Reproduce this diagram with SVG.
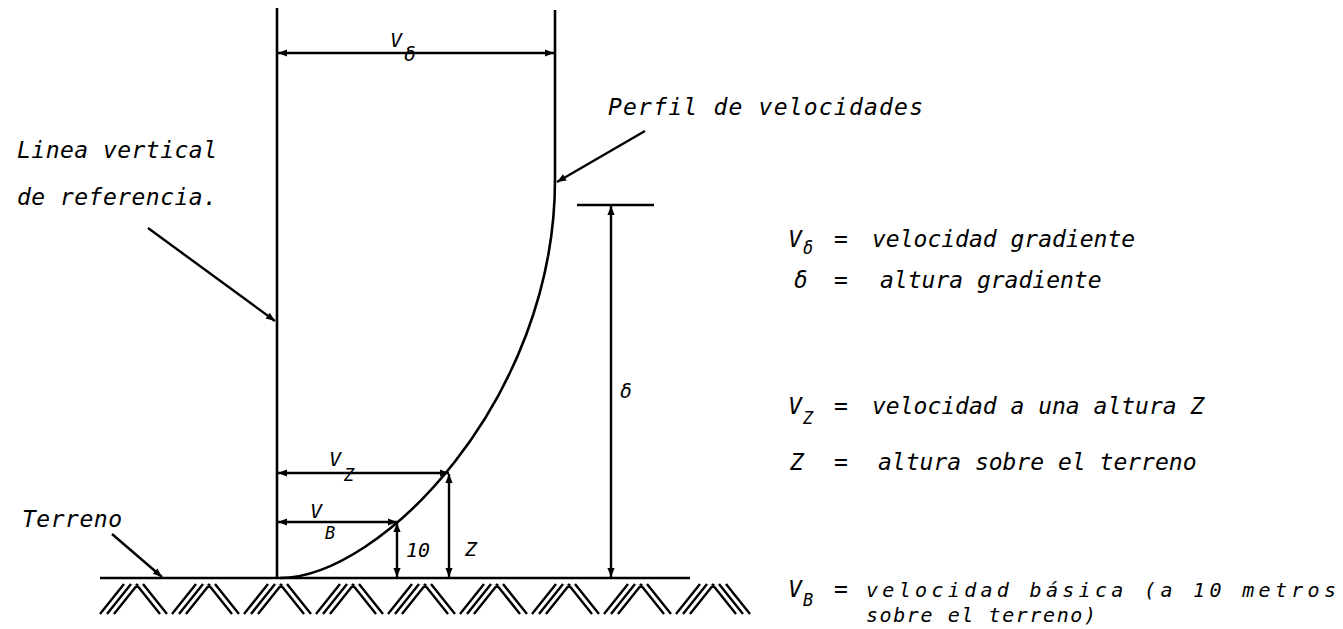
<svg xmlns="http://www.w3.org/2000/svg" width="1343" height="629" viewBox="0 0 1343 629">
<defs>
<marker id="ah" viewBox="0 0 10 10" refX="10" refY="5" markerWidth="10" markerHeight="9" markerUnits="userSpaceOnUse" orient="auto-start-reverse">
<path d="M0,1 L10,5 L0,9 Z" fill="#000"/>
</marker>
<style>
.ln{stroke:#000;stroke-width:2.6;fill:none}
.dim{stroke:#000;stroke-width:2.4;fill:none;marker-start:url(#ah);marker-end:url(#ah)}
.ldr{stroke:#000;stroke-width:2.4;fill:none;marker-end:url(#ah)}
.t{font-family:"DejaVu Sans Mono","Liberation Mono",monospace;font-style:oblique;font-size:23px;fill:#000}
.b{font-family:"DejaVu Sans Mono","Liberation Mono",monospace;font-style:oblique;font-size:20px;fill:#000}
.d{font-family:"DejaVu Sans Mono","Liberation Mono",monospace;font-style:oblique;font-size:20px;fill:#000}
.s{font-family:"DejaVu Sans Mono","Liberation Mono",monospace;font-style:oblique;font-size:17px;fill:#000}
.h{stroke:#000;stroke-width:2.4;fill:none}
</style>
</defs>
<rect width="1343" height="629" fill="#fff"/>

<g id="ground">
<line class="ln" x1="100" y1="578" x2="690" y2="578"/>
<path class="h" d="M100 614L124 584M107 614L131 584M114 614L138 584M136 584L160 614M143 584L167 614
M172 614L196 584M179 614L203 584M186 614L210 584M208 584L232 614M215 584L239 614
M244 614L268 584M251 614L275 584M258 614L282 584M280 584L304 614M287 584L311 614
M316 614L340 584M323 614L347 584M330 614L354 584M352 584L376 614M359 584L383 614
M388 614L412 584M395 614L419 584M402 614L426 584M424 584L448 614M431 584L455 614
M460 614L484 584M467 614L491 584M474 614L498 584M496 584L520 614M503 584L527 614
M532 614L556 584M539 614L563 584M546 614L570 584M568 584L592 614M575 584L599 614
M604 614L628 584M611 614L635 584M618 614L642 584M640 584L664 614M647 584L671 614
M676 614L700 584M683 614L707 584M690 614L714 584M712 584L736 614M719 584L743 614M726 584L750 614"/>
</g>

<g id="reference-line">
<line class="ln" x1="277" y1="8" x2="277" y2="578"/>
</g>

<g id="profile">
<path class="ln" d="M555 10 L555 180 C555 400 380 578 280 578"/>
</g>

<g id="connectors">
<line class="dim" x1="278" y1="53" x2="554" y2="53"/>
<line class="dim" x1="278" y1="473" x2="449" y2="473"/>
<line class="dim" x1="278" y1="522" x2="397" y2="522"/>
<line class="dim" x1="397" y1="523" x2="397" y2="577"/>
<line class="dim" x1="449" y1="474" x2="449" y2="577"/>
<line class="ln" x1="577" y1="205" x2="654" y2="205"/>
<line class="dim" x1="611" y1="206" x2="611" y2="577"/>
<line class="ldr" x1="645" y1="131" x2="557" y2="182"/>
<line class="ldr" x1="148" y1="228" x2="275" y2="321"/>
<line class="ldr" x1="112" y1="534" x2="162" y2="577"/>
</g>

<g id="labels">
<text class="d" x="390" y="47">V</text><text class="d" x="404" y="61">δ</text>
<text class="t" x="608" y="115" textLength="315" lengthAdjust="spacing">Perfil de velocidades</text>
<text class="t" x="17" y="158" textLength="200" lengthAdjust="spacing">Linea vertical</text>
<text class="t" x="17" y="205" textLength="200" lengthAdjust="spacing">de referencia.</text>
<text class="d" x="620" y="398">δ</text>
<text class="d" x="329" y="466">V</text><text class="s" x="344" y="481">Z</text>
<text class="d" x="310" y="518">V</text><text class="s" x="325" y="539">B</text>
<text class="d" x="406" y="557">10</text>
<text class="d" x="465" y="556">Z</text>
<text class="t" x="22" y="527" textLength="100" lengthAdjust="spacing">Terreno</text>
</g>

<g id="legend">
<text class="t" x="788" y="247">V</text><text class="s" x="803" y="254">δ</text>
<text class="t" x="834" y="247">=</text>
<text class="t" x="872" y="247">velocidad gradiente</text>
<text class="t" x="794" y="288">δ</text>
<text class="t" x="834" y="288">=</text>
<text class="t" x="880" y="288">altura gradiente</text>
<text class="t" x="788" y="414">V</text><text class="s" x="803" y="424">Z</text>
<text class="t" x="834" y="414">=</text>
<text class="t" x="872" y="414">velocidad a una altura Z</text>
<text class="t" x="790" y="470">Z</text>
<text class="t" x="834" y="470">=</text>
<text class="t" x="878" y="470">altura sobre el terreno</text>
<text class="t" x="788" y="597">V</text><text class="s" x="803" y="606">B</text>
<text class="t" x="834" y="597">=</text>
<text class="b" x="866" y="597" textLength="470" lengthAdjust="spacing">velocidad básica (a 10 metros</text>
<text class="b" x="866" y="622" textLength="230" lengthAdjust="spacing">sobre el terreno)</text>
</g>
</svg>
